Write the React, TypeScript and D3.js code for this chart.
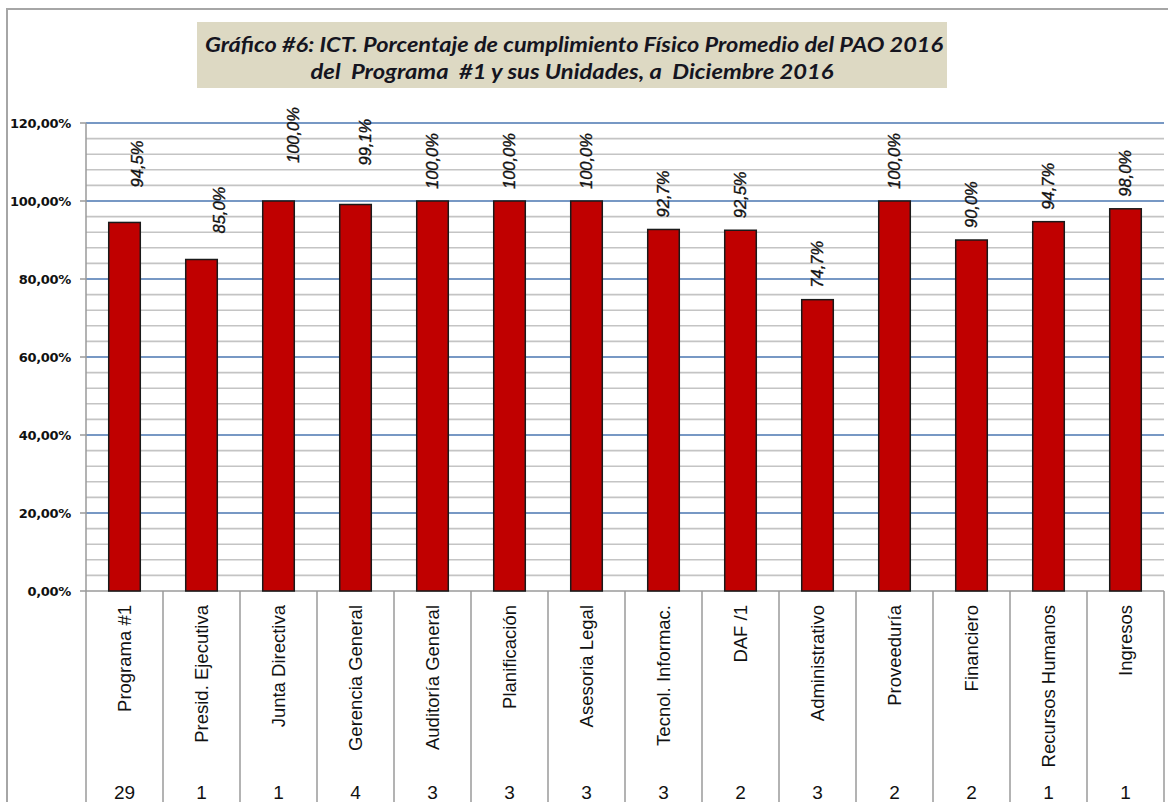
import React from "react";
import * as d3 from "d3";

const categories = [
  "Programa #1",
  "Presid. Ejecutiva",
  "Junta Directiva",
  "Gerencia General",
  "Auditoría General",
  "Planificación",
  "Asesoria Legal",
  "Tecnol. Informac.",
  "DAF /1",
  "Administrativo",
  "Proveeduría",
  "Financiero",
  "Recursos Humanos",
  "Ingresos",
];
const values = [94.5, 85.0, 100.0, 99.1, 100.0, 100.0, 100.0, 92.7, 92.5, 74.7, 100.0, 90.0, 94.7, 98.0];
const counts = [29, 1, 1, 4, 3, 3, 3, 3, 2, 3, 2, 2, 1, 1];
const yTicks = [0, 20, 40, 60, 80, 100, 120];
const titleLines = [
  "Gráfico #6: ICT. Porcentaje de cumplimiento Físico Promedio del PAO 2016",
  "del  Programa  #1 y sus Unidades, a  Diciembre 2016",
];
// manual nudges applied to some data labels in the original (dx, dy in px)
const labelNudge: [number, number][] = [
  [13, -23], [18, -14], [15, -26], [10, -27],
  [0, 0], [0, 0], [0, 0], [0, 0], [0, 0], [0, 0], [0, 0], [0, 0], [0, 0], [0, 0],
];

const W = 1168;
const H = 802;
const plot = { left: 86, right: 1164, top: 123, bottom: 591 };

export default function App() {
  const x = d3.scaleBand<string>().domain(categories).range([plot.left, plot.right]).padding(0);
  const y = d3.scaleLinear().domain([0, 120]).range([plot.bottom, plot.top]);
  const minorTicks = d3.range(0, 120.001, 4);
  const step = x.bandwidth();
  const barW = step * 0.41;
  const fmtTick = (v: number) => v.toFixed(2).replace(".", ",") + "%";
  const fmtVal = (v: number) => v.toFixed(1).replace(".", ",") + "%";

  return (
    <svg
      width={W}
      height={H}
      style={{ position: "absolute", left: 0, top: 0, background: "#fff" }}
      fontFamily="'Liberation Sans', Arial, sans-serif"
    >
      <rect x={0} y={0} width={W} height={H} fill="#fff" />
      {/* outer frame */}
      <rect x={7} y={9} width={W} height={H} fill="none" stroke="#a6a6a6" strokeWidth={2} />

      {/* title */}
      <rect x={197} y={22} width={750} height={66} fill="#ddd9c3" />
      <g fontFamily="Lato, 'Open Sans', sans-serif" fontWeight="bold" fontStyle="italic" fill="#15151f" fontSize={21}>
        <text x={574} y={52} textAnchor="middle" textLength={738} lengthAdjust="spacingAndGlyphs">
          {titleLines[0]}
        </text>
        <text x={572} y={79} textAnchor="middle" textLength={523} lengthAdjust="spacingAndGlyphs" style={{ whiteSpace: "pre" }}>
          {titleLines[1]}
        </text>
      </g>

      {/* minor gridlines */}
      {minorTicks
        .filter((t) => Math.round(t) % 20 !== 0)
        .map((t) => (
          <line key={"m" + t} x1={plot.left} x2={plot.right} y1={y(t)} y2={y(t)} stroke="#c4c4c4" strokeWidth={1.6} />
        ))}
      {/* major gridlines */}
      {yTicks
        .filter((t) => t !== 0)
        .map((t) => (
          <line key={"M" + t} x1={plot.left} x2={plot.right} y1={y(t)} y2={y(t)} stroke="#4a76b0" strokeWidth={1.4} />
        ))}

      {/* y axis */}
      <line x1={plot.left} x2={plot.left} y1={plot.top} y2={H} stroke="#9a9a9a" strokeWidth={1.5} />
      {yTicks.map((t) => (
        <g key={"t" + t}>
          <line x1={plot.left - 6} x2={plot.left} y1={y(t)} y2={y(t)} stroke="#9a9a9a" strokeWidth={1.5} />
          <text
            x={71}
            y={y(t)}
            dy="0.35em"
            textAnchor="end"
            fontFamily="'DejaVu Sans', sans-serif"
            fontWeight="bold"
            fontSize={13}
            letterSpacing={-0.3}
            fill="#111"
          >
            {fmtTick(t)}
          </text>
        </g>
      ))}

      {/* x axis line & table */}
      <line x1={plot.left} x2={plot.right} y1={plot.bottom} y2={plot.bottom} stroke="#9a9a9a" strokeWidth={1.5} />
      {categories.map((c) => (
        <line key={"d" + c} x1={(x(c) as number) + step} x2={(x(c) as number) + step} y1={plot.bottom} y2={H} stroke="#9a9a9a" strokeWidth={1.5} />
      ))}

      {/* bars */}
      {categories.map((c, i) => {
        const cx = (x(c) as number) + step / 2;
        return (
          <rect
            key={"b" + c}
            x={cx - barW / 2}
            y={y(values[i])}
            width={barW}
            height={plot.bottom - y(values[i])}
            fill="#c00000"
            stroke="#1a1a1a"
            strokeWidth={1.5}
          />
        );
      })}

      {/* data labels */}
      {categories.map((c, i) => {
        const cx = (x(c) as number) + step / 2 + labelNudge[i][0];
        const ly = y(values[i]) - 12 + labelNudge[i][1];
        return (
          <text
            key={"l" + c}
            transform={`translate(${cx},${ly}) rotate(-90)`}
            dy="0.35em"
            textAnchor="start"
            fontStyle="italic"
            fontSize={16.5}
            fill="#111"
            stroke="#111"
            strokeWidth={0.35}
          >
            {fmtVal(values[i])}
          </text>
        );
      })}

      {/* category labels */}
      {categories.map((c) => {
        const cx = (x(c) as number) + step / 2;
        return (
          <text
            key={"c" + c}
            transform={`translate(${cx},${605}) rotate(-90)`}
            dy="0.35em"
            textAnchor="end"
            fontSize={18.5}
            fill="#111"
          >
            {c}
          </text>
        );
      })}

      {/* counts */}
      {categories.map((c, i) => {
        const cx = (x(c) as number) + step / 2;
        return (
          <text key={"n" + c} x={cx} y={799} textAnchor="middle" fontSize={19} fill="#111">
            {counts[i]}
          </text>
        );
      })}
    </svg>
  );
}
